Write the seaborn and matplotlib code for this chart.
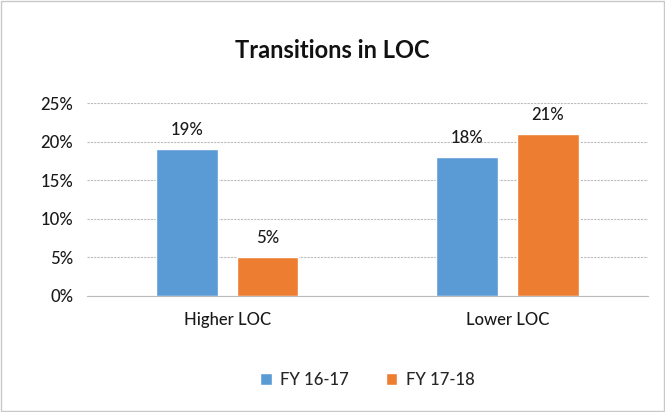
import pandas as pd
import matplotlib.pyplot as plt
import seaborn as sns
from matplotlib.patches import Rectangle

# données
categories = ['Higher LOC', 'Lower LOC']
fy1617 = [19, 18]
fy1718 = [5, 21]
series = ['FY 16-17', 'FY 17-18']
couleurs = ['#5B9BD5', '#ED7D31']

df = pd.DataFrame({
    'categorie': categories * 2,
    'valeur': fy1617 + fy1718,
    'serie': [series[0]] * 2 + [series[1]] * 2,
})

sns.set_style('white')
plt.rcParams['font.family'] = ['Lato', 'DejaVu Sans']

fig = plt.figure(figsize=(6.65, 4.12), dpi=100)
ax = fig.add_axes([0.131, 0.282, 0.843, 0.468])

sns.barplot(data=df, x='categorie', y='valeur', hue='serie', palette=couleurs,
            width=0.576, gap=0.236, ax=ax, saturation=1)

for c in ax.containers:
    ax.bar_label(c, labels=[f'{v:.0f}%' for v in c.datavalues], padding=8,
                 fontsize=12, color='#1a1a1a', fontweight='medium')

ax.set_ylim(0, 25)
ax.set_yticks(range(0, 26, 5))
ax.set_yticklabels([f'{v}%' for v in range(0, 26, 5)])
ax.yaxis.grid(True, color='#BBBBBB', linestyle=(0, (2, 1)), linewidth=0.8)
ax.set_axisbelow(True)
for s in ['top', 'right', 'left']:
    ax.spines[s].set_visible(False)
ax.spines['bottom'].set_color('#BBBBBB')
ax.tick_params(axis='both', length=0, labelsize=12, colors='#1a1a1a')
ax.tick_params(axis='y', pad=10)
ax.tick_params(axis='x', pad=12)
for t in ax.get_xticklabels() + ax.get_yticklabels():
    t.set_fontweight('medium')
ax.set_xlabel('')
ax.set_ylabel('')

fig.suptitle('Transitions in LOC', y=0.905, fontsize=17, fontweight='bold', color='#111111')

ax.legend(loc='center', bbox_to_anchor=(0.5, -0.435), ncol=2, frameon=False,
          prop={'size': 12, 'weight': 'medium'}, handlelength=0.7, handleheight=0.7,
          columnspacing=2.2, handletextpad=0.5)

fig.patches.append(Rectangle((0.002, 0.003), 0.996, 0.994, transform=fig.transFigure,
                             fill=False, edgecolor='#C8C8C8', linewidth=1))

fig.savefig('out.png', dpi=100)
